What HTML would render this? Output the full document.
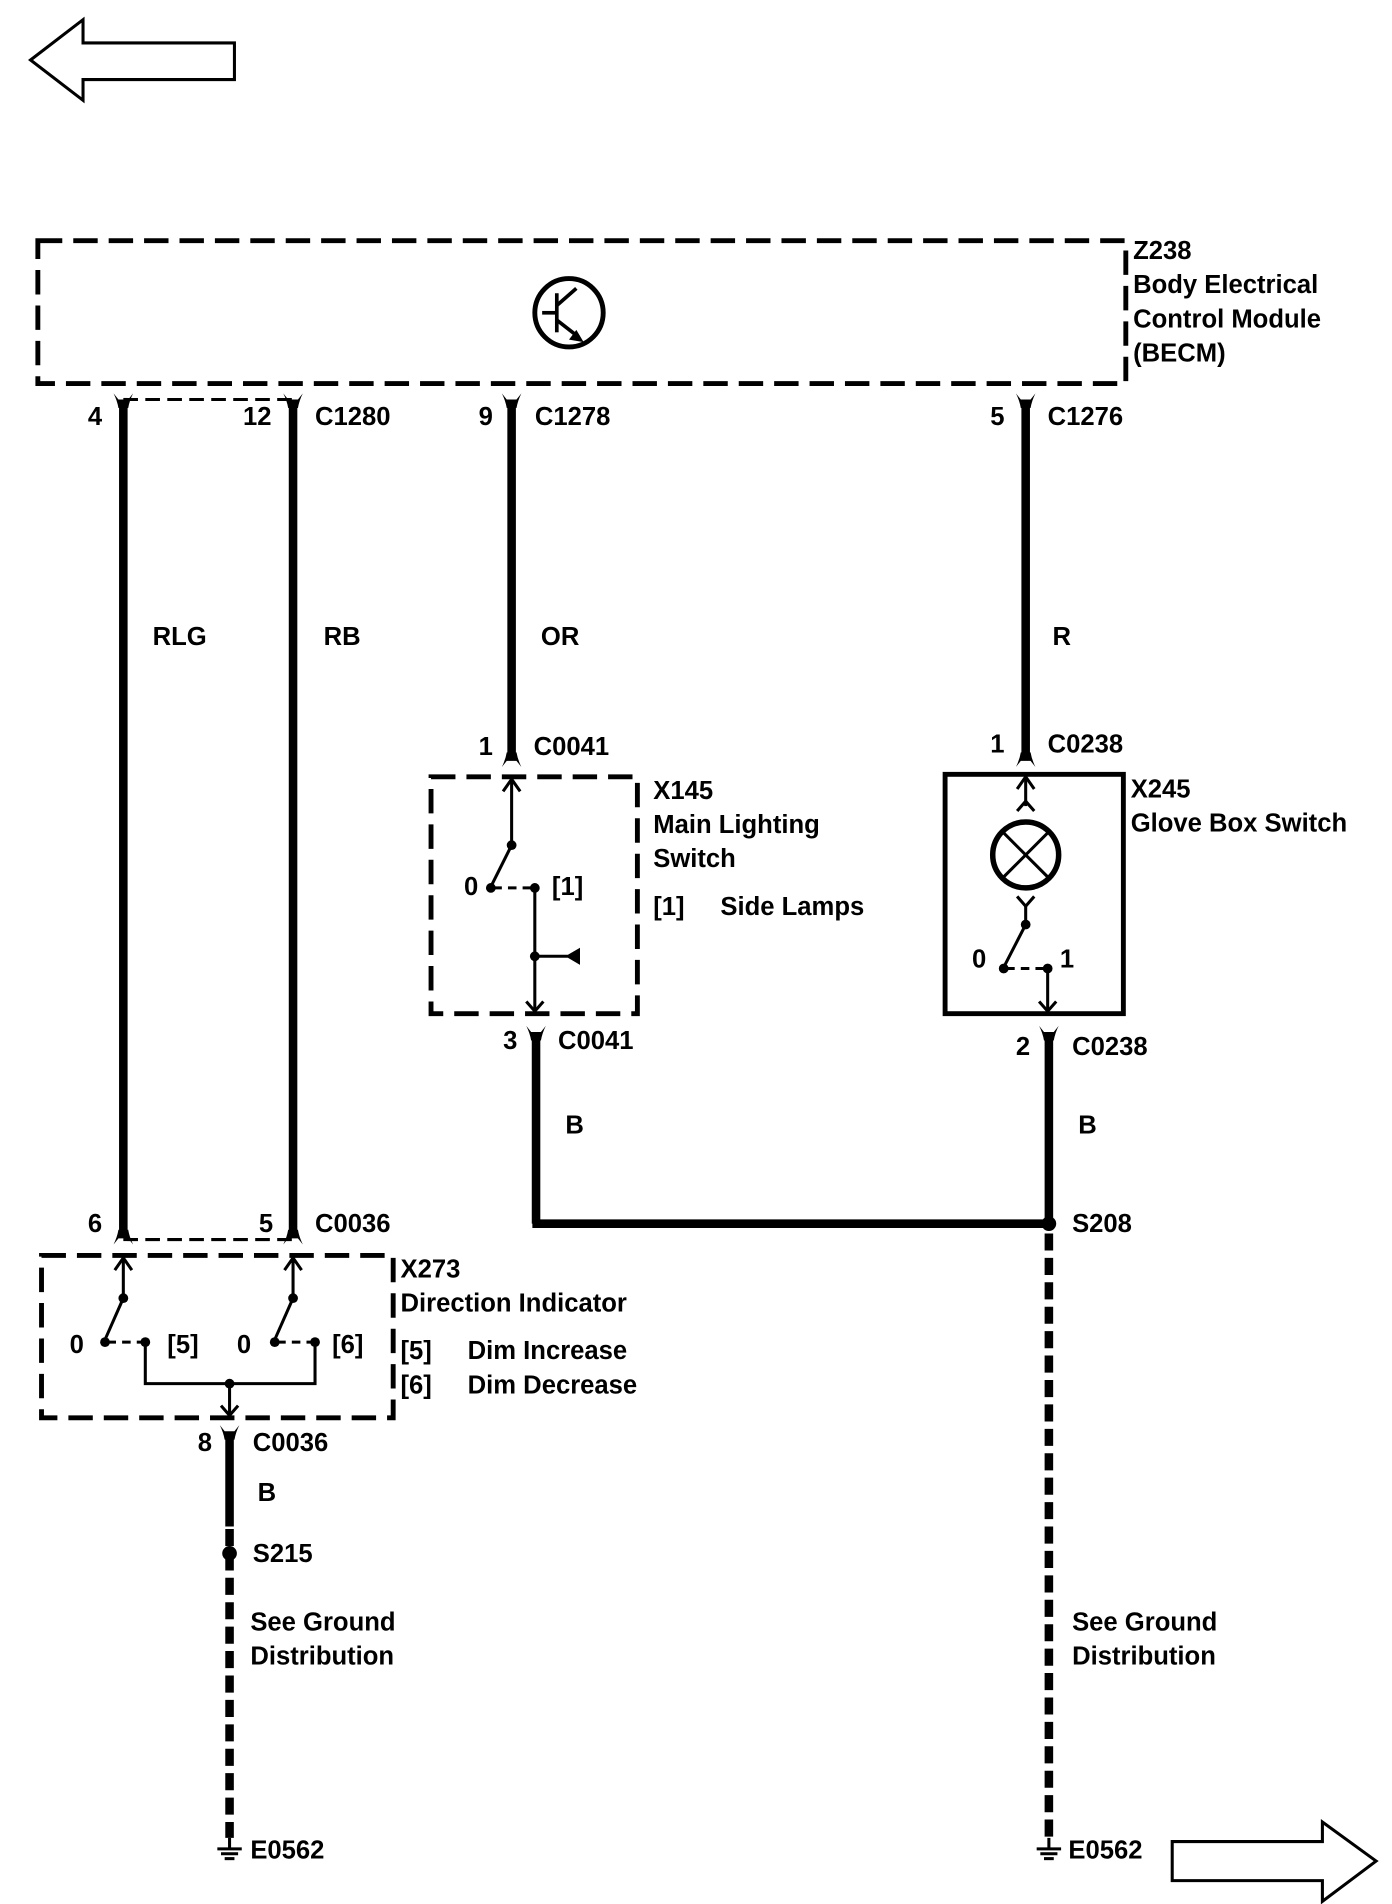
<!DOCTYPE html>
<html><head><meta charset="utf-8"><style>
html,body{margin:0;padding:0;background:#fff}
svg{display:block}
text{font-family:"Liberation Sans",sans-serif;font-weight:bold;font-size:21px;fill:#000}
</style></head><body>
<svg width="1392" height="1904" viewBox="0 0 1140 1559" xmlns="http://www.w3.org/2000/svg">
<defs>
<g id="ft"><path d="M-8,-9 Q-5,-3 -4,3 L4,3 Q5,-3 8,-9 L4,-4 L-4,-4 Z" fill="#000"/></g>
<g id="fb"><path d="M-8,9 Q-5,3 -4,-3 L4,-3 Q5,3 8,9 L4,4 L-4,4 Z" fill="#000"/></g>
</defs>
<path d="M25,49 L68,16 L68,35 L192,35 L192,65 L68,65 L68,82 Z" fill="none" stroke="#000" stroke-width="2.5"/>
<path d="M1127,1524 L1083,1492 L1083,1508 L960,1508 L960,1540 L1083,1540 L1083,1557 Z" fill="none" stroke="#000" stroke-width="2.5"/>
<rect x="31" y="197" width="891" height="117" fill="none" stroke="#000" stroke-width="4" stroke-dasharray="20,9"/>
<circle cx="466" cy="256" r="28" fill="none" stroke="#000" stroke-width="4"/>
<line x1="456" y1="240" x2="456" y2="272" stroke="#000" stroke-width="3"/>
<line x1="456" y1="256" x2="444" y2="256" stroke="#000" stroke-width="3"/>
<line x1="456" y1="250" x2="472" y2="236" stroke="#000" stroke-width="3"/>
<line x1="456" y1="262" x2="474" y2="276" stroke="#000" stroke-width="3"/>
<path d="M478,280 L466,278 L472,270 Z" fill="#000"/>
<text x="928" y="212">Z238</text>
<text x="928" y="240">Body Electrical</text>
<text x="928" y="268">Control Module</text>
<text x="928" y="296">(BECM)</text>
<line x1="101" y1="327" x2="240" y2="327" stroke="#000" stroke-width="2.5" stroke-dasharray="12,6"/>
<g stroke="#000" stroke-width="7">
<line x1="101" y1="330" x2="101" y2="1010"/>
<line x1="240" y1="330" x2="240" y2="1010"/>
<line x1="419" y1="330" x2="419" y2="620"/>
<line x1="840" y1="330" x2="840" y2="620"/>
<line x1="439" y1="848" x2="439" y2="1002"/>
<line x1="436" y1="1002" x2="859" y2="1002"/>
<line x1="859" y1="848" x2="859" y2="1002"/>
<line x1="188" y1="1175" x2="188" y2="1250"/>
</g>
<g stroke="#000" stroke-width="7" stroke-dasharray="14,6">
<line x1="859" y1="1010" x2="859" y2="1505"/>
<line x1="188" y1="1252" x2="188" y2="1505"/>
</g>
<use href="#ft" x="101" y="331"/><use href="#ft" x="240" y="331"/>
<use href="#ft" x="419" y="331"/><use href="#ft" x="840" y="331"/>
<use href="#fb" x="419" y="619"/><use href="#fb" x="840" y="619"/>
<use href="#ft" x="439" y="849"/><use href="#ft" x="859" y="849"/>
<use href="#fb" x="101" y="1010"/><use href="#fb" x="240" y="1010"/>
<use href="#ft" x="188" y="1176"/>
<line x1="101" y1="1015" x2="240" y2="1015" stroke="#000" stroke-width="2.5" stroke-dasharray="12,6"/>
<text x="72" y="348">4</text><text x="199" y="348">12</text><text x="258" y="348">C1280</text>
<text x="392" y="348">9</text><text x="438" y="348">C1278</text>
<text x="811" y="348">5</text><text x="858" y="348">C1276</text>
<text x="125" y="528">RLG</text><text x="265" y="528">RB</text><text x="443" y="528">OR</text><text x="862" y="528">R</text>
<text x="392" y="618">1</text><text x="437" y="618">C0041</text>
<text x="811" y="616">1</text><text x="858" y="616">C0238</text>
<rect x="353" y="636" width="169" height="194" fill="none" stroke="#000" stroke-width="4" stroke-dasharray="20,9"/>
<g stroke="#000" stroke-width="2.5" fill="none">
<line x1="419" y1="638" x2="419" y2="692"/><path d="M412,648 L419,638 L426,648"/>
<line x1="419" y1="692" x2="402" y2="726"/>
<line x1="404" y1="727" x2="438" y2="727" stroke-dasharray="7,5"/>
<line x1="438" y1="727" x2="438" y2="828"/><path d="M431,820 L438,828 L445,820"/>
<line x1="438" y1="783" x2="465" y2="783"/>
</g>
<path d="M475,776 L475,790 L463,783 Z" fill="#000"/>
<circle cx="419" cy="692" r="4"/><circle cx="402" cy="727" r="4"/><circle cx="438" cy="727" r="4"/><circle cx="438" cy="783" r="4"/>
<text x="380" y="733">0</text><text x="452" y="733">[1]</text>
<text x="535" y="654">X145</text><text x="535" y="682">Main Lighting</text><text x="535" y="710">Switch</text>
<text x="535" y="749">[1]</text><text x="590" y="749">Side Lamps</text>
<rect x="774" y="634" width="146" height="196" fill="none" stroke="#000" stroke-width="4"/>
<g stroke="#000" stroke-width="2.5" fill="none">
<line x1="840" y1="636" x2="840" y2="660"/><path d="M833,646 L840,636 L847,646"/><path d="M833,664 L840,656 L847,664"/>
<circle cx="840" cy="700" r="27" stroke-width="4.5"/>
<line x1="821" y1="681" x2="859" y2="719"/><line x1="859" y1="681" x2="821" y2="719"/>
<path d="M833,734 L840,742 L847,734"/><line x1="840" y1="742" x2="840" y2="757"/>
<line x1="840" y1="757" x2="822" y2="792"/>
<line x1="824" y1="793" x2="858" y2="793" stroke-dasharray="7,5"/>
<line x1="858" y1="793" x2="858" y2="828"/><path d="M851,820 L858,828 L865,820"/>
</g>
<circle cx="840" cy="757" r="4"/><circle cx="822" cy="793" r="4"/><circle cx="858" cy="793" r="4"/>
<text x="796" y="792">0</text><text x="868" y="792">1</text>
<text x="926" y="653">X245</text><text x="926" y="681">Glove Box Switch</text>
<text x="412" y="859">3</text><text x="457" y="859">C0041</text>
<text x="832" y="864">2</text><text x="878" y="864">C0238</text>
<text x="463" y="928">B</text><text x="883" y="928">B</text>
<circle cx="859" cy="1002" r="6"/><text x="878" y="1009">S208</text>
<text x="72" y="1009">6</text><text x="212" y="1009">5</text><text x="258" y="1009">C0036</text>
<rect x="34" y="1028" width="288" height="133" fill="none" stroke="#000" stroke-width="4" stroke-dasharray="20,9"/>
<g stroke="#000" stroke-width="2.5" fill="none">
<line x1="101" y1="1030" x2="101" y2="1063"/><path d="M94,1040 L101,1030 L108,1040"/>
<line x1="101" y1="1063" x2="86" y2="1097"/>
<line x1="88" y1="1099" x2="119" y2="1099" stroke-dasharray="7,5"/>
<line x1="240" y1="1030" x2="240" y2="1063"/><path d="M233,1040 L240,1030 L247,1040"/>
<line x1="240" y1="1063" x2="225" y2="1097"/>
<line x1="227" y1="1099" x2="258" y2="1099" stroke-dasharray="7,5"/>
<path d="M119,1099 L119,1133 L258,1133 L258,1099"/>
<line x1="188" y1="1133" x2="188" y2="1159"/><path d="M181,1151 L188,1159 L195,1151"/>
</g>
<circle cx="101" cy="1063" r="4"/><circle cx="86" cy="1099" r="4"/><circle cx="119" cy="1099" r="4"/>
<circle cx="240" cy="1063" r="4"/><circle cx="225" cy="1099" r="4"/><circle cx="258" cy="1099" r="4"/>
<circle cx="188" cy="1133" r="4"/>
<text x="57" y="1108">0</text><text x="137" y="1108">[5]</text><text x="194" y="1108">0</text><text x="272" y="1108">[6]</text>
<text x="328" y="1046">X273</text><text x="328" y="1074">Direction Indicator</text>
<text x="328" y="1113">[5]</text><text x="383" y="1113">Dim Increase</text>
<text x="328" y="1141">[6]</text><text x="383" y="1141">Dim Decrease</text>
<text x="162" y="1188">8</text><text x="207" y="1188">C0036</text>
<text x="211" y="1229">B</text>
<circle cx="188" cy="1272" r="6"/><text x="207" y="1279">S215</text>
<text x="205" y="1335">See Ground</text><text x="205" y="1363">Distribution</text>
<text x="878" y="1335">See Ground</text><text x="878" y="1363">Distribution</text>
<g stroke="#000" stroke-width="2.5">
<line x1="188" y1="1505" x2="188" y2="1514"/><line x1="178" y1="1514" x2="198" y2="1514"/><line x1="181" y1="1518" x2="195" y2="1518"/><line x1="184" y1="1522" x2="192" y2="1522"/>
<line x1="859" y1="1505" x2="859" y2="1514"/><line x1="849" y1="1514" x2="869" y2="1514"/><line x1="852" y1="1518" x2="866" y2="1518"/><line x1="855" y1="1522" x2="863" y2="1522"/>
</g>
<text x="205" y="1522">E0562</text><text x="875" y="1522">E0562</text>
</svg>
</body></html>
